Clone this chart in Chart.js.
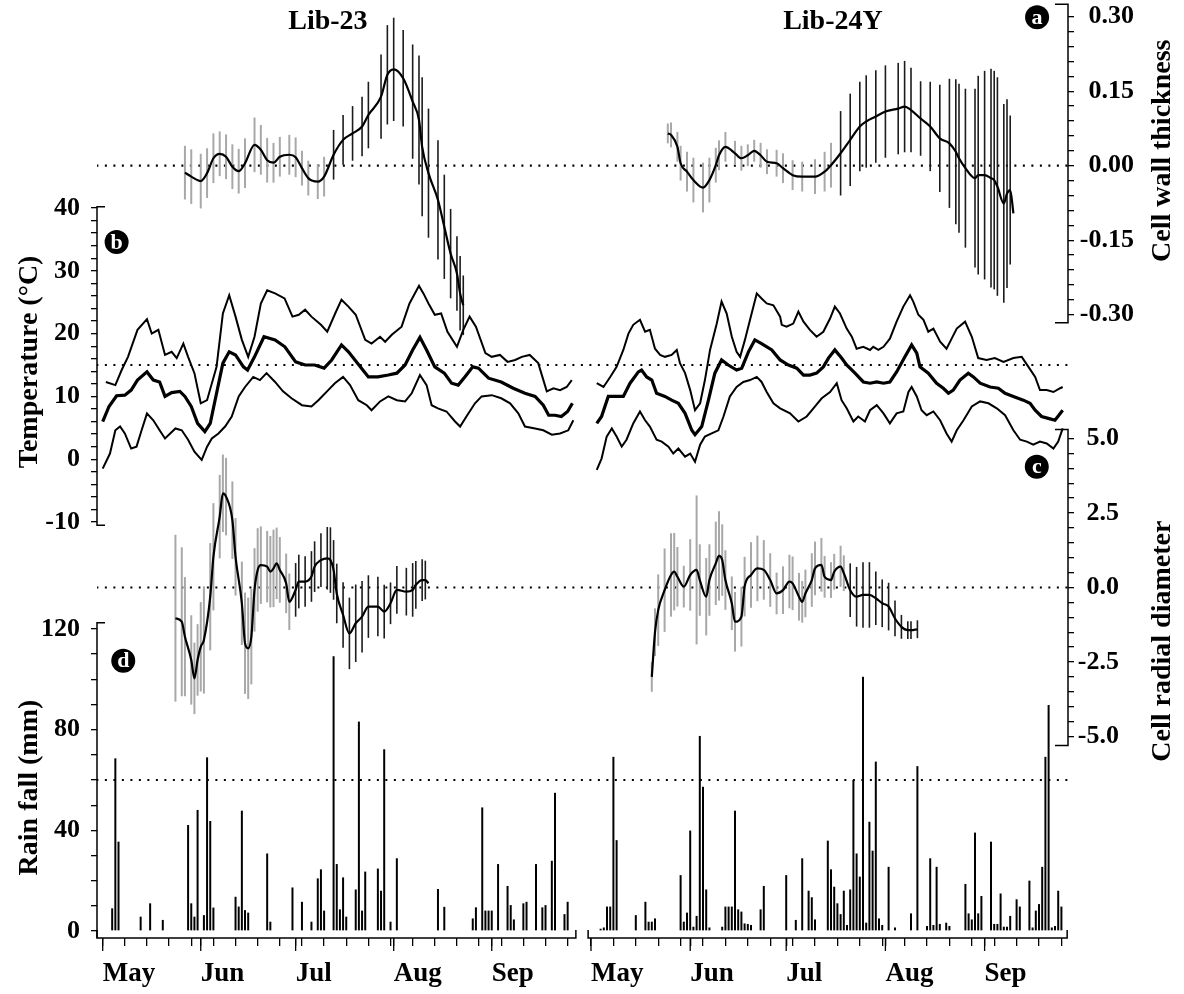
<!DOCTYPE html>
<html>
<head>
<meta charset="utf-8">
<title>Lib-23 / Lib-24Y</title>
<script src="https://cdn.jsdelivr.net/npm/chart.js@4.4.1/dist/chart.umd.min.js"></script>
<style>
  html, body { margin: 0; padding: 0; background: #fff; }
  canvas { display: block; }
</style>
</head>
<body>
<canvas id="chart" width="1184" height="994"></canvas>
<script>
const SERIF = "'Liberation Serif', 'Times New Roman', Times, serif";

// ---- calendar (days counted from 1 May) ----
const monthLabels = ['May', 'Jun', 'Jul', 'Aug', 'Sep'];
const monthStartDays = [0, 31, 61, 92, 123];
const weekTickDays = [0, 7, 14, 21, 28, 35, 42, 49, 56, 63, 70, 77, 84, 91, 98, 105, 112, 119, 126, 133, 140, 147];

// ---- value-axis major ticks ----
const temperatureMajor = [-10, 0, 10, 20, 30, 40];
const rainMajor = [0, 40, 80, 120];
const wallMajor = [-0.30, -0.15, 0, 0.15, 0.30];
const diameterMajor = [-5, -2.5, 0, 2.5, 5];

// ---- reference levels ----
const wallRef = 0;
const temperatureRef = 15;
const diameterRef = 0;
const rainRef = 60;

// ---- Lib-23: daily temperature [day, °C] ----
const lib23TempMax = [[1,12.3],[4,11.8],[6,14.2],[8,16.3],[11,20.6],[14,22.3],[15.5,20.0],[17.6,20.6],[19.7,16.6],[21.8,17.1],[23.4,16.1],[25.5,18.4],[27,16.3],[29,13.7],[31,8.9],[33,9.4],[36,14.7],[38,23.2],[40,26.1],[42,22.7],[44,19.0],[46,16.3],[48,19.5],[50,24.8],[52,26.9],[54.5,26.4],[57.5,25.6],[60,22.7],[62,23.0],[64,23.8],[66,22.7],[69,21.4],[71,20.3],[73.5,23.2],[75.5,25.4],[77.7,24.3],[80,23.0],[83,19.0],[85,18.4],[87.7,19.5],[89.3,18.7],[91.4,19.8],[94.5,21.1],[97,24.8],[100,27.6],[101.4,26.4],[103,24.8],[105,23.0],[107,23.2],[109,20.3],[112,17.9],[114,20.6],[116,22.7],[118,21.1],[121,16.9],[123,16.3],[125.6,16.6],[128,15.5],[130.4,15.8],[132.5,16.3],[135,16.6],[137.7,15.3],[140.4,10.8],[142.5,11.3],[144.6,11.0],[146.7,11.5],[148.3,12.6]];
const lib23TempMean = [[0,6.0],[2,8.4],[4.4,10.1],[7,10.2],[9,11.0],[11,12.6],[14,13.9],[16,12.6],[18,12.3],[19.7,10.0],[21.8,10.6],[24.4,10.8],[26,10.0],[28,8.4],[30,5.7],[32.3,4.4],[34,5.7],[36,10.5],[38,15.3],[40,17.1],[42,16.6],[44.5,14.7],[45.8,14.2],[48,16.3],[51,19.5],[54.5,19.0],[57.6,17.9],[61,15.5],[64,15.0],[67,15.0],[70,14.5],[72.4,15.8],[75.5,18.2],[77.7,17.1],[81,15.0],[84,13.1],[87,13.1],[90.3,13.4],[93,13.7],[95.6,15.0],[98,17.4],[100.3,19.4],[102.4,17.4],[105,14.7],[108,13.7],[110.3,12.1],[112.4,11.8],[114.5,13.1],[117,14.7],[118.8,14.5],[122,12.9],[126,12.3],[129.8,11.3],[133.5,10.5],[136.7,10.0],[139.3,8.6],[141,7.0],[143,7.0],[145,6.8],[147,7.6],[148.5,8.9]];
const lib23TempMin = [[0,-1.5],[2.3,0.9],[4,4.6],[5.5,5.2],[7,4.1],[9,1.7],[10.7,2.0],[12.3,4.6],[14,7.3],[16,6.2],[18,4.6],[19.7,3.3],[23,4.9],[25,4.6],[27,3.1],[29,1.2],[31.3,-0.1],[33,2.0],[34.5,3.3],[36.6,4.1],[38.7,5.2],[40.8,6.8],[43,10.0],[45,11.5],[47.6,13.1],[49.7,12.6],[51.8,13.7],[54.5,12.3],[57,10.8],[59.7,9.7],[63,8.6],[66,8.4],[68.2,9.4],[71.3,11.0],[73.4,12.1],[76,13.1],[78.2,11.8],[80.8,9.4],[83.5,8.6],[85,7.8],[87.7,9.2],[90.3,10.0],[93,9.4],[95.6,9.2],[97.7,10.5],[100.3,13.4],[102.4,11.8],[104,8.6],[106,8.1],[108.7,7.6],[111.4,6.0],[113,5.2],[115,6.8],[117.7,8.9],[119.8,10.0],[123,10.2],[126,9.7],[128.8,8.9],[131.4,7.3],[133.5,5.2],[136.7,4.9],[139.3,4.6],[142,3.9],[144.6,4.1],[147.2,4.6],[148.8,6.2]];

// ---- Lib-23: cell wall thickness [day, mean, sd] ----
const lib23Wall = [[26,-0.014,0.054],[28,-0.022,0.055],[31,-0.031,0.055],[33,-0.015,0.05],[35,0.015,0.05],[37,0.024,0.045],[39,0.018,0.045],[41,-0.002,0.045],[43,-0.011,0.045],[45,0.005,0.05],[48,0.042,0.055],[50,0.032,0.05],[52,0.011,0.045],[54,0.006,0.04],[56,0.018,0.04],[59,0.022,0.04],[61,0.017,0.04],[63,-0.005,0.035],[65,-0.025,0.035],[68,-0.032,0.035],[70,-0.022,0.04],[73,0.022,0.05],[76,0.052,0.05],[79,0.065,0.055],[82,0.079,0.06],[84,0.102,0.067],[88,0.139,0.085],[90,0.183,0.1],[92,0.194,0.104],[95,0.176,0.097],[98,0.129,0.115],[100,0.092,0.13],[101,0.038,0.14],[103,-0.015,0.13],[106,-0.069,0.12],[108,-0.123,0.105],[110,-0.177,0.09],[112,-0.217,0.075],[113,-0.257,0.075],[114,-0.281,0.06]];
const lib23WallSolidFrom = 73;

// ---- Lib-23: cell radial diameter [day, mean, sd] ----
const lib23Diam = [[23,-1.03,2.8],[25,-1.15,2.5],[26,-1.65,2.0],[28,-2.43,1.5],[29,-3.05,1.2],[30,-2.43,1.2],[31,-1.99,1.5],[32,-1.76,1.8],[34,-0.31,1.8],[35,1.03,1.8],[37,2.38,1.4],[38,3.16,1.3],[39,3.05,1.3],[41,2.26,1.3],[42,1.03,1.3],[44,-0.53,1.4],[45,-1.87,1.7],[46,-2.04,1.7],[47,-1.65,1.6],[48,-0.08,1.4],[49,0.59,1.4],[50,0.75,1.3],[52,0.70,1.2],[53,0.53,1.2],[54,0.64,1.3],[55,0.81,1.2],[56,0.59,1.1],[58,0.14,1.0],[59,-0.48,0.95],[61,-0.08,0.9],[62,0.20,0.9],[64,0.20,0.85],[66,0.37,0.85],[67,0.70,0.85],[69,0.92,0.9],[71,0.98,1.05],[72,0.92,1.1],[73,0.59,1.0],[74,-0.20,1.0],[76,-0.92,1.1],[78,-1.54,1.2],[80,-1.20,1.3],[82,-0.98,1.2],[84,-0.64,1.05],[87,-0.64,1.0],[89,-0.81,0.9],[91,-0.53,0.7],[93,-0.08,0.8],[96,-0.14,0.8],[98,-0.08,0.9],[99,0.09,0.8],[101,0.25,0.7],[102,0.25,0.65],[103,0.14,0]];
const lib23DiamSolidFrom = 61;

// ---- Lib-23: daily rain fall [day, mm] ----
const lib23Rain = [[3,9.0],[4,68.6],[5,35.5],[12,5.7],[15,11.0],[19,4.4],[27,42.1],[28,11.0],[29,5.7],[30,48.1],[32,6.3],[33,69.0],[34,43.7],[35,9.3],[42,13.6],[43,9.7],[44,47.8],[45,8.3],[46,7.3],[52,30.8],[53,3.7],[60,17.3],[63,11.6],[66,3.7],[68,20.9],[69,24.5],[70,8.1],[73,109.2],[74,26.6],[75,8.6],[76,21.3],[77,5.7],[80,16.5],[81,83.2],[82,8.1],[83,23.6],[87,24.8],[88,16.0],[89,72.2],[91,3.7],[93,28.9],[106,16.7],[108,9.6],[117,5.0],[118,9.4],[120,49.1],[121,8.1],[122,8.1],[123,8.1],[125,26.6],[128,17.9],[129,10.3],[130,4.6],[133,11.0],[134,11.6],[137,26.6],[139,9.4],[140,10.3],[142,27.9],[143,54.9],[146,6.7],[147,11.6]];

// ---- Lib-24Y: daily temperature [day, °C] ----
const lib24TempMax = [[1.8,12.1],[3.9,11.5],[6,13.1],[8,14.7],[10.1,17.4],[11.7,20.0],[13.2,21.4],[15.3,22.2],[16.9,20.3],[18.4,20.6],[20,17.6],[21.6,16.6],[23.1,16.3],[25.2,16.6],[26.8,17.4],[27.8,15.3],[29.4,13.7],[31,11.0],[32.5,7.8],[34.1,8.9],[35.6,12.6],[37.2,17.4],[39.3,21.6],[40.8,25.1],[42.4,23.2],[44,19.5],[45.5,17.1],[46.6,16.3],[48.1,19.0],[49.7,22.2],[51.8,26.4],[53.3,25.6],[54.9,24.8],[57,24.5],[59.1,22.7],[59.6,21.4],[61.1,21.1],[63.2,21.6],[64.8,23.5],[66.4,21.9],[68.4,20.6],[70.5,19.5],[72.6,20.3],[74.7,22.4],[76.2,24.3],[77.8,23.2],[79.9,20.8],[81.5,19.5],[83,17.6],[85.1,17.9],[87.2,17.4],[88.2,17.9],[89.8,17.4],[91.4,17.9],[93.4,19.2],[95.5,21.9],[97.6,24.3],[99.7,26.1],[100.7,25.1],[102.3,23.0],[103.9,22.2],[105.4,20.3],[107,20.8],[109.1,18.7],[111.1,17.6],[112.7,19.2],[114.3,20.8],[116.9,21.9],[119,19.5],[121,16.1],[123.6,15.8],[126.2,16.1],[128.9,15.5],[132,16.1],[134.6,16.3],[136.7,14.7],[138.8,13.1],[140.3,11.0],[142.4,11.0],[144.5,10.7],[146.6,11.3],[147.4,11.5]];
const lib24TempMean = [[1.8,5.7],[3.3,6.8],[5.4,10.0],[8,10.0],[10.1,10.0],[12.2,12.1],[14.8,13.9],[15.8,14.2],[17.4,13.1],[19,12.6],[20.5,10.5],[23.1,10.0],[25.2,9.4],[27.3,8.9],[29.4,7.3],[31.5,4.6],[32.5,3.9],[34.6,5.2],[36.7,9.4],[38.7,13.7],[40.8,15.8],[42.9,15.0],[45.5,14.2],[47.1,14.5],[49.2,17.1],[51.2,19.0],[53.3,18.4],[56.5,17.4],[59.1,15.8],[61.7,15.0],[64.3,14.5],[66.4,13.4],[68.4,13.4],[70.5,13.7],[72.6,14.7],[74.2,16.1],[76.2,17.4],[78.3,16.1],[79.9,15.0],[82.5,13.7],[85.1,12.3],[87.2,12.1],[89.3,12.3],[91.4,12.1],[93.4,12.3],[95.5,13.9],[98.1,16.3],[100.2,18.2],[101.8,16.9],[102.8,14.7],[105.4,13.7],[108,12.1],[110.1,11.3],[111.7,10.5],[113.2,11.0],[115.3,12.6],[117.9,13.7],[119.5,13.1],[121.6,12.1],[124.7,11.5],[127.3,11.3],[129.4,10.5],[132,10.0],[135.1,9.4],[137.2,8.9],[138.8,7.8],[140.8,6.8],[142.9,6.5],[145,6.2],[147.4,7.8]];
const lib24TempMin = [[1.8,-1.7],[3.3,0.1],[4.9,3.6],[6.5,4.9],[8,3.6],[9.6,2.0],[11.1,3.1],[13.2,5.7],[15.3,7.6],[16.9,6.2],[18.4,5.2],[20.5,3.1],[22.1,2.8],[24.2,2.0],[25.7,0.9],[27.3,1.7],[29.4,0.4],[31,0.9],[32.5,-0.4],[34.1,2.3],[35.6,3.6],[37.7,4.1],[39.8,4.6],[41.4,6.8],[43.4,10.0],[45.5,11.5],[47.6,12.3],[49.7,12.6],[51.8,13.1],[53.3,12.3],[54.9,10.7],[57,8.9],[59.1,8.1],[62.2,7.3],[64.8,6.0],[67.4,6.8],[69.5,8.1],[72.1,9.7],[74.7,10.7],[76.8,12.1],[78.3,9.4],[79.9,8.1],[82,6.0],[83.5,6.8],[85.6,6.0],[87.2,7.8],[89.3,8.6],[91.4,7.3],[93.4,5.7],[95.5,7.3],[97.6,7.6],[99.2,10.7],[100.2,11.5],[101.8,10.0],[103.3,7.8],[104.9,7.0],[107,7.6],[109.1,6.2],[111.1,4.1],[112.7,2.8],[114.3,4.6],[116.4,6.2],[119,8.4],[121.6,9.2],[124.2,8.9],[126.8,8.1],[129.4,7.0],[132,4.6],[134.1,3.1],[136.2,2.8],[138.2,2.3],[140.3,2.8],[142.4,2.5],[144.5,1.7],[146,2.8],[147.4,4.9]];

// ---- Lib-24Y: cell wall thickness [day, mean, sd] ----
const lib24Wall = [[24,0.065,0.02],[25,0.062,0.025],[27,0.038,0.03],[28,0.005,0.035],[30,-0.012,0.04],[32,-0.029,0.045],[35,-0.044,0.05],[37,-0.029,0.045],[39,0.001,0.035],[40,0.021,0.03],[42,0.038,0.03],[45,0.025,0.025],[47,0.015,0.025],[49,0.021,0.022],[51,0.030,0.022],[53,0.021,0.025],[55,0.008,0.025],[58,0.005,0.027],[60,-0.005,0.03],[63,-0.019,0.03],[66,-0.022,0.03],[70,-0.022,0.035],[73,-0.012,0.04],[75,0.001,0.045],[78,0.025,0.085],[81,0.052,0.093],[84,0.079,0.09],[86,0.089,0.093],[89,0.099,0.093],[92,0.109,0.093],[96,0.115,0.092],[98,0.119,0.092],[100,0.112,0.085],[103,0.095,0.075],[106,0.079,0.09],[109,0.055,0.108],[112,0.045,0.13],[114,0.028,0.146],[115,0.015,0.15],[117,-0.005,0.16],[120,-0.025,0.18],[121,-0.019,0.2],[123,-0.019,0.21],[125,-0.025,0.22],[126,-0.029,0.22],[127,-0.042,0.22],[129,-0.076,0.2],[130,-0.056,0.19],[131,-0.049,0.15],[132,-0.096,0]];
const lib24WallSolidFrom = 78;

// ---- Lib-24Y: cell radial diameter [day, mean, sd] ----
const lib24Diam = [[19,-3.0,0.5],[20,-1.5,0.8],[21,-0.76,1.2],[23,-0.09,1.4],[25,0.42,1.4],[26,0.53,1.3],[27,0.36,1.0],[29,0.03,0.7],[31,0.42,1.2],[33,0.59,2.5],[34,0.25,1.2],[36,-0.31,1.3],[37,0.25,1.2],[39,0.81,1.4],[40,1.06,1.5],[41,0.92,1.2],[42,0.25,1.0],[44,-0.53,0.9],[45,-1.15,1.0],[47,-0.98,1.0],[48,0.03,1.0],[50,0.42,1.1],[52,0.64,1.1],[54,0.59,1.0],[56,0.25,0.9],[58,-0.20,0.7],[60,-0.09,0.8],[62,0.20,0.9],[63,0.14,0.9],[65,-0.31,0.8],[66,-0.48,0.7],[67,-0.20,0.8],[69,0.25,0.9],[70,0.64,0.9],[72,0.76,0.9],[73,0.36,0.7],[75,0.25,0.6],[76,0.53,0.6],[78,0.70,0.7],[79,0.48,0.6],[81,-0.09,0.9],[83,-0.31,1.0],[85,-0.25,1.1],[87,-0.25,1.1],[89,-0.36,0.9],[91,-0.53,0.8],[93,-0.64,0.8],[95,-1.04,0.6],[97,-1.32,0.4],[99,-1.43,0.3],[100,-1.43,0.3],[102,-1.40,0.3]];
const lib24DiamSolidFrom = 81;

// ---- Lib-24Y: daily rain fall [day, mm] ----
const lib24Rain = [[3,0.9],[4,1.4],[5,9.7],[6,9.7],[7,69.2],[8,36.1],[14,6.3],[17,11.6],[18,3.7],[19,3.7],[20,5.0],[28,22.2],[29,3.7],[30,7.3],[31,39.9],[32,1.7],[33,6.0],[34,77.5],[35,57.3],[36,16.5],[37,1.4],[41,1.7],[42,9.7],[43,9.7],[44,9.7],[45,47.8],[46,8.6],[47,7.7],[48,3.0],[49,2.8],[50,2.4],[53,8.6],[54,17.9],[61,22.2],[64,4.4],[66,28.9],[68,16.0],[69,13.4],[70,4.6],[74,35.9],[75,24.5],[76,17.6],[77,11.0],[78,6.7],[79,16.0],[80,2.4],[81,16.5],[82,60.0],[83,30.8],[84,21.6],[85,101.0],[86,3.3],[87,43.4],[88,31.9],[89,67.3],[90,5.0],[91,2.4],[93,25.5],[95,1.4],[100,7.0],[102,65.5],[105,2.0],[106,28.9],[107,2.4],[108,25.5],[109,2.8],[111,3.3],[112,2.0],[117,18.7],[118,7.0],[119,4.6],[120,39.1],[121,7.0],[122,13.9],[125,35.5],[126,2.8],[127,2.8],[128,14.9],[129,1.7],[130,1.7],[131,6.0],[133,12.6],[134,9.7],[137,20.0],[138,1.4],[139,8.1],[140,10.7],[141,25.5],[142,69.2],[143,89.8],[144,1.4],[145,2.0],[146,16.0],[147,9.7]];

// ---------------------------------------------------------------------------
// Dataset builders
const asPoints = pairs => pairs.map(([x, y]) => ({ x, y }));

function temperatureSets(xAxisID, maxP, meanP, minP) {
  const base = { type: 'line', xAxisID, yAxisID: 'yT', borderColor: '#000', pointRadius: 0, tension: 0, order: 2 };
  return [
    { ...base, data: asPoints(maxP), borderWidth: 2 },
    { ...base, data: asPoints(meanP), borderWidth: 3.2 },
    { ...base, data: asPoints(minP), borderWidth: 2 }
  ];
}

function anatomySets(xAxisID, yAxisID, rows, solidFrom) {
  const light = [], dark = [];
  rows.forEach(([d, m, sd]) => {
    if (!sd) return;
    (d >= solidFrom ? dark : light).push({ x: d, y: [m - sd, m + sd] });
  });
  const bar = { type: 'bar', xAxisID, yAxisID, grouped: false, borderWidth: 0 };
  return [
    { ...bar, data: light, backgroundColor: '#a8a8a8', maxBarThickness: 2, order: 7 },
    { ...bar, data: dark, backgroundColor: '#1c1c1c', maxBarThickness: 1.6, order: 6 },
    { type: 'line', xAxisID, yAxisID, data: rows.map(([d, m]) => ({ x: d, y: m })),
      borderColor: '#000', borderWidth: 2.2, pointRadius: 0, cubicInterpolationMode: 'monotone', order: 1 }
  ];
}

function rainSet(xAxisID, rows) {
  return { type: 'bar', xAxisID, yAxisID: 'yR', data: asPoints(rows), backgroundColor: '#000',
           grouped: false, maxBarThickness: 2, borderWidth: 0, order: 4 };
}

function referenceLine(yAxisID, level) {
  return { type: 'line', xAxisID: 'xL', yAxisID, data: [{ x: -2, y: level }, { x: 306, y: level }],
           borderColor: '#000', borderWidth: 2.2, borderDash: [2, 6.5], pointRadius: 0, order: 9 };
}

const datasets = [
  referenceLine('yW', wallRef),
  referenceLine('yT', temperatureRef),
  referenceLine('yD', diameterRef),
  referenceLine('yR', rainRef),
  ...temperatureSets('xL', lib23TempMax, lib23TempMean, lib23TempMin),
  ...temperatureSets('xR', lib24TempMax, lib24TempMean, lib24TempMin),
  ...anatomySets('xL', 'yW', lib23Wall, lib23WallSolidFrom),
  ...anatomySets('xR', 'yW', lib24Wall, lib24WallSolidFrom),
  ...anatomySets('xL', 'yD', lib23Diam, lib23DiamSolidFrom),
  ...anatomySets('xR', 'yD', lib24Diam, lib24DiamSolidFrom),
  rainSet('xL', lib23Rain),
  rainSet('xR', lib24Rain)
];

// ---------------------------------------------------------------------------
// Axes
function withMinor(majors, parts) {
  const out = [];
  for (let i = 0; i < majors.length - 1; i++) {
    const a = majors[i], b = majors[i + 1];
    for (let k = 0; k < parts; k++) out.push({ value: a + (b - a) * k / parts, major: k === 0 });
  }
  out.push({ value: majors[majors.length - 1], major: true });
  return out;
}

const tickFont = { family: SERIF, size: 26, weight: 'bold' };

function valueAxis(position, weight, width, min, max, list, fmt, padding) {
  return {
    type: 'linear', axis: 'y', position, weight, min, max,
    bounds: 'data', beginAtZero: false, offset: false,
    afterFit: s => { s.width = width; s.paddingTop = 0; s.paddingBottom = 0; },
    afterBuildTicks: s => { s.ticks = list.map(t => ({ value: t.value })); },
    ticks: {
      autoSkip: false, padding, color: '#000', font: tickFont,
      crossAlign: position === 'right' ? 'far' : 'near',
      callback: (v, i) => (list[i] && list[i].major ? fmt(list[i].value) : '')
    },
    grid: { drawOnChartArea: false, drawTicks: true, tickLength: 6, color: '#000', tickColor: '#000', lineWidth: 1.3 },
    border: { display: false }
  };
}

const timeTicks = [...new Set([...weekTickDays, ...monthStartDays])].sort((a, b) => a - b);
const timeTickLabels = timeTicks.map(d => {
  const k = monthStartDays.indexOf(d);
  return k >= 0 ? monthLabels[k] : '';
});

function timeAxis(weight, height, min, max) {
  return {
    type: 'linear', axis: 'x', position: 'bottom', weight, min, max,
    bounds: 'data', offset: false,
    afterFit: s => { s.height = height; s.paddingLeft = 0; s.paddingRight = 0; },
    afterBuildTicks: s => { s.ticks = timeTicks.map(d => ({ value: d })); },
    ticks: {
      autoSkip: false, maxRotation: 0, minRotation: 0, align: 'start', padding: 12,
      color: '#000', font: { family: SERIF, size: 27, weight: 'bold' },
      callback: (v, i) => timeTickLabels[i]
    },
    grid: { offset: false, drawOnChartArea: false, drawTicks: true, tickLength: 8, color: '#000', tickColor: '#000', lineWidth: 1.3 },
    border: { display: false }
  };
}

// Right edges of the right-hand tick label columns (labels are right-aligned)
const wallLabelRight = 1134;
const diameterLabelRight = 1119;

// ---------------------------------------------------------------------------
// Axis frames, panel titles and panel letters
const frame = {
  id: 'frame',
  // The secondary axes share a side with a primary one; give them the same
  // label box so their tick labels are laid out in the margin.
  afterLayout(chart) {
    const { xL, xR, yT, yR, yW, yD } = chart.scales;
    yR.left = yT.left;
    yW.right = wallLabelRight;
    yD.right = diameterLabelRight;
    xL.bottom = xR.bottom;
  },
  afterDraw(chart) {
    const { ctx, chartArea: area, scales } = chart;
    const { xL, xR, yT, yR, yW, yD } = scales;
    ctx.save();
    ctx.strokeStyle = '#000';
    ctx.lineWidth = 1.5;

    const vBracket = (x, yTop, yBot, inward, closeBottom) => {
      ctx.beginPath();
      ctx.moveTo(x + inward, yTop);
      ctx.lineTo(x, yTop);
      ctx.lineTo(x, yBot);
      if (closeBottom) ctx.lineTo(x + inward, yBot);
      ctx.stroke();
    };
    vBracket(yT.right, yT.getPixelForValue(40.2), yT.getPixelForValue(-10.5), 8, true);
    vBracket(yR.right, yR.getPixelForValue(122.5), area.bottom, 8, false);
    vBracket(yW.left, yW.getPixelForValue(0.325), yW.getPixelForValue(-0.316), -13, true);
    vBracket(yD.left, yD.getPixelForValue(5.3), yD.getPixelForValue(-5.3), -13, true);

    const timeLine = (scale, from, to) => {
      const x1 = scale.getPixelForValue(from), x2 = scale.getPixelForValue(to), y = area.bottom;
      ctx.beginPath();
      ctx.moveTo(x1, y - 8); ctx.lineTo(x1, y); ctx.lineTo(x2, y); ctx.lineTo(x2, y - 8);
      ctx.stroke();
      ctx.lineWidth = 1.3;
      monthStartDays.forEach(d => {
        const x = scale.getPixelForValue(d);
        ctx.beginPath(); ctx.moveTo(x, y); ctx.lineTo(x, y + 13); ctx.stroke();
      });
      ctx.lineWidth = 1.5;
    };
    timeLine(xL, -1.8, 149.6);
    timeLine(xR, -0.9, 148.8);

    ctx.fillStyle = '#000';
    ctx.textAlign = 'center';
    ctx.textBaseline = 'middle';
    ctx.font = `bold 28px ${SERIF}`;
    ctx.fillText('Lib-23', xL.getPixelForValue(71.2), 22);
    ctx.fillText('Lib-24Y', xR.getPixelForValue(75.6), 22);

    const vText = (txt, x, y) => {
      ctx.save(); ctx.translate(x, y); ctx.rotate(-Math.PI / 2); ctx.fillText(txt, 0, 0); ctx.restore();
    };
    ctx.font = `bold 28px ${SERIF}`;
    vText('Temperature (°C)', 30, yT.getPixelForValue(15.5));
    vText('Rain fall (mm)', 30, yR.getPixelForValue(57));
    vText('Cell wall thickness', 1163, yW.getPixelForValue(0.03));
    vText('Cell radial diameter', 1163, yD.getPixelForValue(-1.8));

    const badge = (ch, x, y) => {
      ctx.beginPath(); ctx.arc(x, y, 12, 0, Math.PI * 2); ctx.fillStyle = '#000'; ctx.fill();
      ctx.fillStyle = '#fff'; ctx.font = `bold 22px ${SERIF}`; ctx.fillText(ch, x, y + 1);
    };
    badge('a', xR.getPixelForValue(139.4), yW.getPixelForValue(0.299));
    badge('b', xL.getPixelForValue(4.4), yT.getPixelForValue(34.6));
    badge('c', xR.getPixelForValue(139.3), yD.getPixelForValue(4.05));
    badge('d', xL.getPixelForValue(6.5), yR.getPixelForValue(107.4));
    ctx.restore();
  }
};

new Chart(document.getElementById('chart'), {
  type: 'bar',
  data: { datasets },
  options: {
    responsive: false,
    devicePixelRatio: 1,
    animation: false,
    events: [],
    layout: { padding: 0, autoPadding: false },
    plugins: { legend: { display: false }, tooltip: { enabled: false }, title: { display: false } },
    scales: {
      xL: timeAxis(0, 0, -1.8, 305.19),
      xR: timeAxis(1, 56, -154.375, 149.06),
      yT: valueAxis('left', 1, 97, -76.24, 73.12, withMinor(temperatureMajor, 5), v => String(Math.round(v)), 11),
      yR: valueAxis('left', 0, 0, -2.78, 369.9, withMinor(rainMajor, 4), v => String(Math.round(v)), 11),
      yW: valueAxis('right', 1, 116, -1.5549, 0.3336, withMinor(wallMajor, 5), v => v.toFixed(2), 5),
      yD: valueAxis('right', 0, 0, -11.762, 19.715, withMinor(diameterMajor, 5), v => v.toFixed(1), 5)
    }
  },
  plugins: [frame]
});
</script>
</body>
</html>
